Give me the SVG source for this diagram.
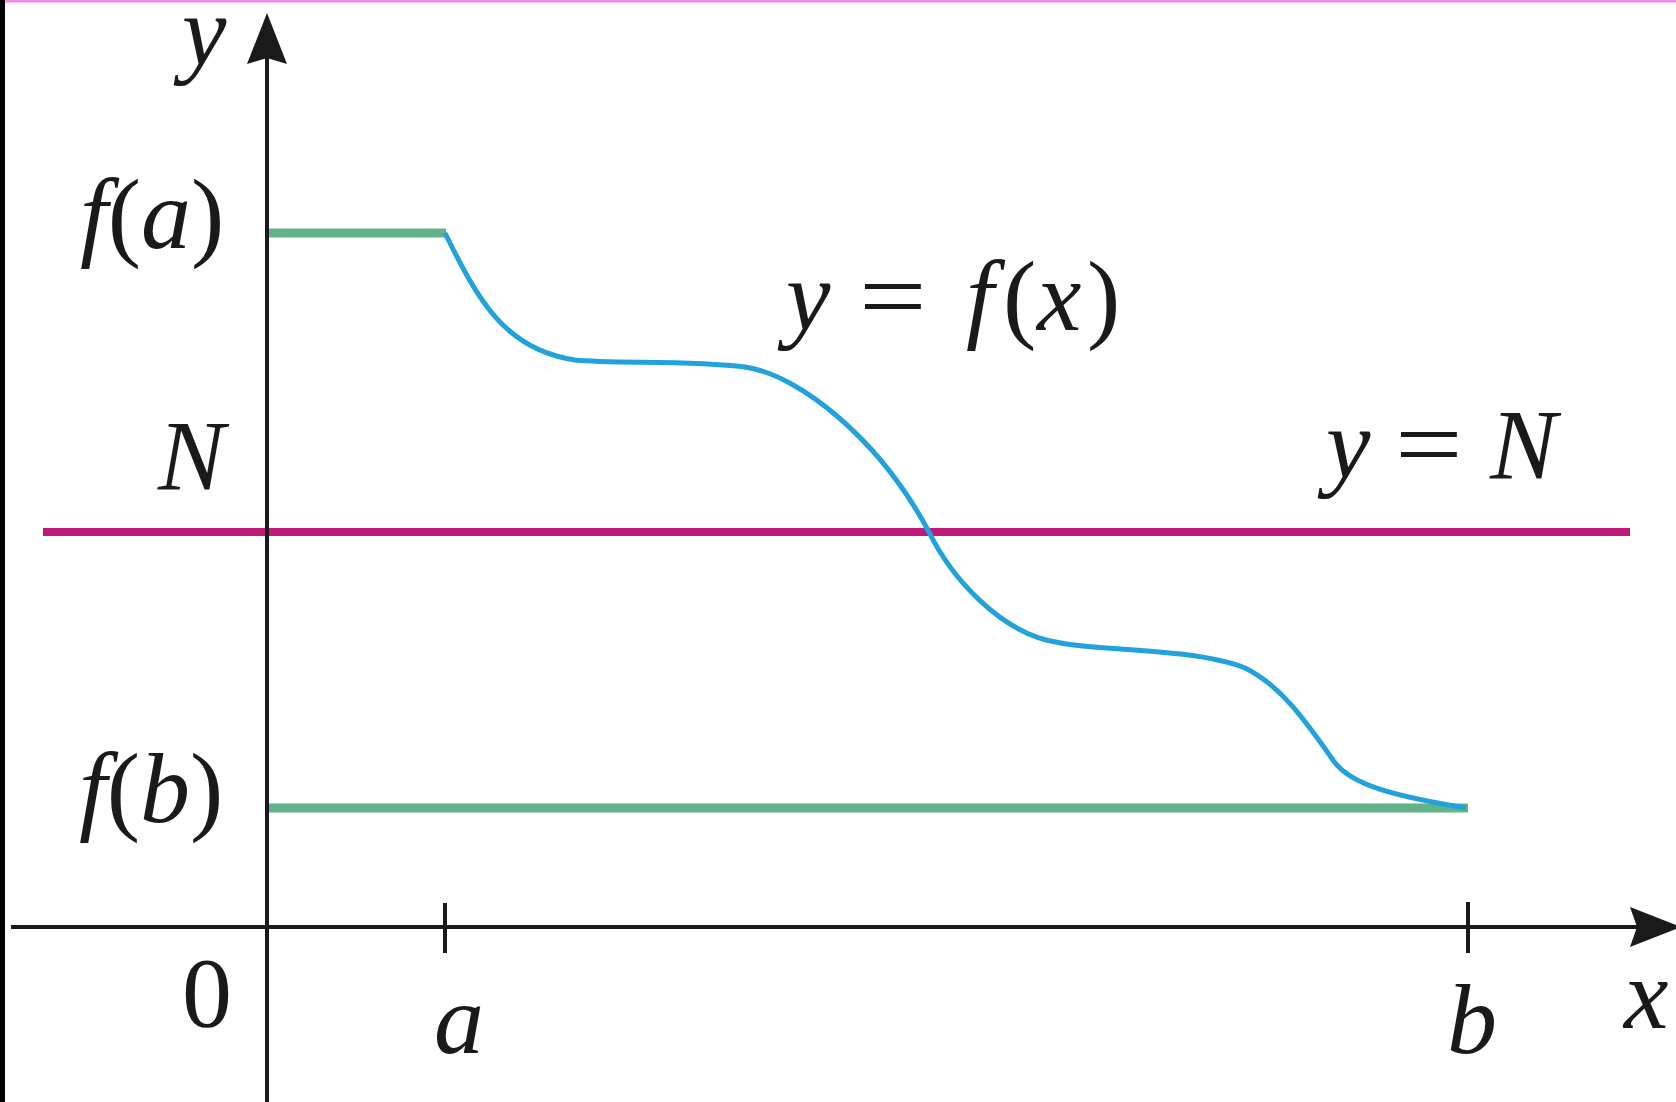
<svg xmlns="http://www.w3.org/2000/svg" width="1676" height="1102" viewBox="0 0 1676 1102">
<style>
.t{font-family:"Liberation Serif","Times New Roman",serif;font-size:100px;fill:#1a1a1a}
.i{font-style:italic}
.ax{stroke:#1a1a1a;stroke-width:4;fill:none}
.lvl{stroke:#62b38a;stroke-width:9;fill:none}
</style>
<rect x="0" y="0" width="1676" height="1102" fill="#ffffff"/>
<rect x="0" y="0" width="5" height="1102" fill="#000000"/>
<rect x="5" y="0" width="1671" height="2.5" fill="#f08ce6"/>
<g id="levels">
<line class="lvl" x1="267" y1="233" x2="446" y2="233"/>
<line class="lvl" x1="267" y1="808" x2="1468" y2="808"/>
</g>
<g id="line-N">
<line x1="43" y1="532" x2="1630" y2="532" stroke="#bf1a78" stroke-width="8"/>
</g>
<g id="curve">
<path d="M445,233 C478,300 505,350 575,360 C615,364 690,360 745,367 C800,375 880,440 929,532 C950,575 1000,635 1061,643 C1100,651 1195,648 1245,668 C1280,685 1305,720 1333,760 C1350,786 1400,797 1466,808" fill="none" stroke="#22a2dc" stroke-width="5"/>
</g>
<g id="axes">
<line class="ax" x1="267" y1="50" x2="267" y2="1102"/>
<path d="M267,13 L287,64 L267,58 L247,64 Z" fill="#1a1a1a"/>
<line class="ax" x1="11" y1="927" x2="1645" y2="927"/>
<path d="M1681,927 L1630,907 L1637,927 L1630,947 Z" fill="#1a1a1a"/>
<line class="ax" x1="445" y1="903" x2="445" y2="953"/>
<line class="ax" x1="1468" y1="902" x2="1468" y2="953"/>
</g>
<g id="labels">
<text class="t i" x="182" y="65">y</text>
<text class="t" x="80" y="248"><tspan class="i">f</tspan>(<tspan class="i">a</tspan>)</text>
<text class="t i" x="158" y="489">N</text>
<text class="t" x="79" y="822"><tspan class="i">f</tspan>(<tspan class="i">b</tspan>)</text>
<text class="t" x="182" y="1026">0</text>
<text class="t i" x="434" y="1053">a</text>
<text class="t i" x="1447" y="1053">b</text>
<text class="t i" x="1624" y="1028">x</text>
<text class="t" y="330"><tspan class="i" x="786">y</tspan><tspan class="i" x="966">f</tspan><tspan x="1003">(</tspan><tspan class="i" x="1037">x</tspan><tspan x="1087">)</tspan></text>
<text class="t" transform="translate(859,330) scale(1.2,1)">=</text>
<text class="t" y="478"><tspan class="i" x="1326">y</tspan><tspan class="i" x="1490">N</tspan></text>
<text class="t" transform="translate(1395,478) scale(1.2,1)">=</text>
</g>
</svg>
